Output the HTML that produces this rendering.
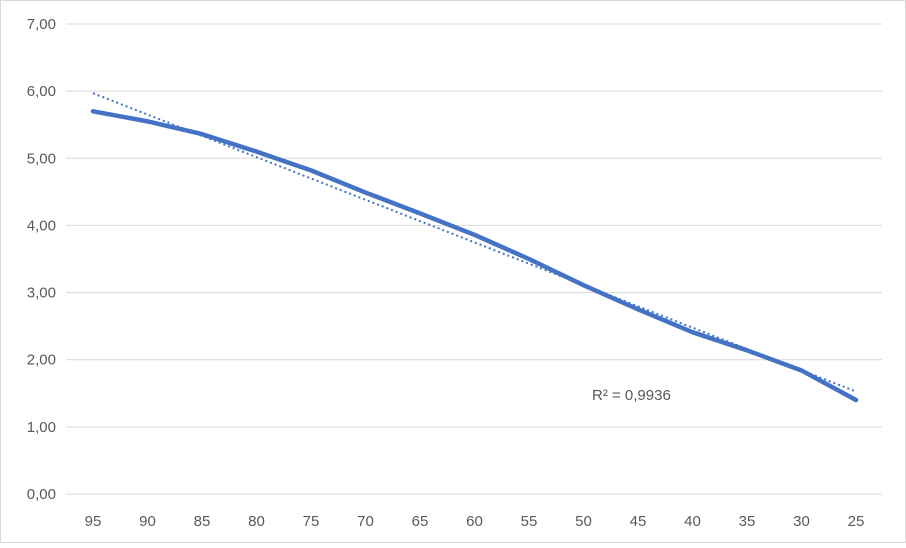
<!DOCTYPE html>
<html><head><meta charset="utf-8"><style>
body{margin:0;background:#fff;font-family:"Liberation Sans",sans-serif}
#wrap{position:relative;width:906px;height:543px}
</style></head><body>
<div id="wrap">
<svg id="chart" width="906" height="543"></svg>
</div>
<script>
const categories=["95","90","85","80","75","70","65","60","55","50","45","40","35","30","25"];
const values=[5.70,5.55,5.36,5.10,4.82,4.49,4.18,3.86,3.50,3.11,2.75,2.41,2.14,1.84,1.40];
const yTicks=[0,1,2,3,4,5,6,7];
const yTickLabels=["0,00","1,00","2,00","3,00","4,00","5,00","6,00","7,00"];
const r2Label="R² = 0,9936";
const NS="http://www.w3.org/2000/svg";
const svg=document.getElementById('chart');
function el(t,a){const e=document.createElementNS(NS,t);for(const k in a)e.setAttribute(k,a[k]);svg.appendChild(e);return e;}
const x0=93,dx=(856-93)/(categories.length-1);
function X(i){return x0+i*dx;}
function Y(v){return 494-v*(470/7);}
const border=el('rect',{x:0.5,y:0.5,width:905,height:542,fill:'#fff',stroke:'#d9d9d9'});


yTicks.forEach((t,i)=>{
 const g=el('line',{x1:66,x2:882,y1:Y(t),y2:Y(t),stroke:'#d9d9d9','stroke-width':1});
 
 
 const l=el('text',{x:56,y:Y(t)+5,'text-anchor':'end','font-size':'15',fill:'#595959','font-family':'Liberation Sans, sans-serif'});
 l.textContent=yTickLabels[i];
 
 
});
categories.forEach((c,i)=>{
 const l=el('text',{x:X(i),y:526,'text-anchor':'middle','font-size':'15',fill:'#595959','font-family':'Liberation Sans, sans-serif'});
 l.textContent=c;
 
 
});
let pts=values.map((v,i)=>X(i)+','+Y(v)).join(' ');
const line=el('polyline',{points:pts,fill:'none',stroke:'#4472c4','stroke-width':4.5,'stroke-linejoin':'round','stroke-linecap':'round'});


// linear trendline
const n=values.length;let sx=0,sy=0,sxx=0,sxy=0;
values.forEach((v,i)=>{sx+=i;sy+=v;sxx+=i*i;sxy+=i*v;});
const b=(n*sxy-sx*sy)/(n*sxx-sx*sx),a=(sy-b*sx)/n;
const tl=el('line',{x1:X(0),y1:Y(a),x2:X(n-1),y2:Y(a+b*(n-1)),stroke:'#4472c4','stroke-width':2,'stroke-dasharray':'2 3'});


const r=el('text',{x:592,y:400,'font-size':'15',fill:'#595959','font-family':'Liberation Sans, sans-serif'});
r.textContent=r2Label;


</script>
</body></html>
